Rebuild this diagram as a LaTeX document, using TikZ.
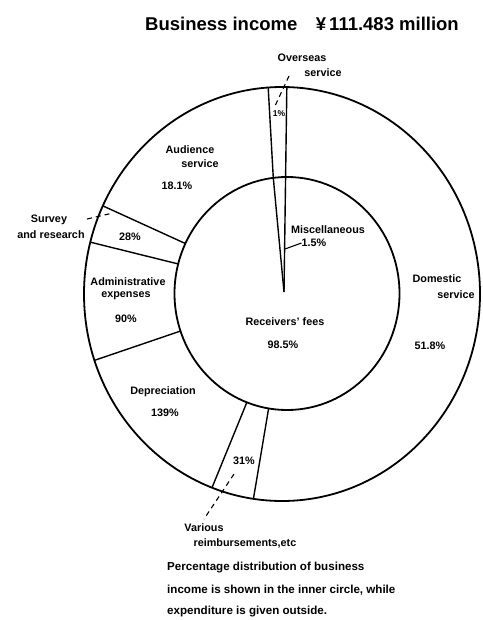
\documentclass[tikz,border=0pt]{standalone}
\usepackage{fontspec}
\setmainfont{Liberation Sans}
\usetikzlibrary{calc}
\begin{document}
\begin{tikzpicture}[x=1pt,y=1pt,
  ring/.style={line width=1.8pt},
  sep/.style={line width=1.4pt},
  lbl/.style={font=\bfseries\fontsize{10.8}{12}\selectfont, inner sep=0pt},
  small/.style={font=\bfseries\fontsize{8.5}{9}\selectfont, inner sep=0pt},
  capline/.style={font=\bfseries\fontsize{11.6}{13}\selectfont, inner sep=0pt, anchor=west},
  lead/.style={line width=1.1pt, dash pattern=on 5pt off 4pt}]
\useasboundingbox (0,0) rectangle (482,-620);
% centres
\coordinate (Co) at (282,-294);
\coordinate (Ci) at (287,-293.5);
\coordinate (ap) at (284,-292);
% rings
\draw[ring] (Co) ellipse [x radius=198pt, y radius=207pt];
\draw[ring] (Ci) ellipse [x radius=112.5pt, y radius=116.5pt];
% separator end points
\coordinate (o1) at ($(Co)+(94:198pt and 207pt)$);
\coordinate (i1) at ($(Ci)+(97:112.5pt and 116.5pt)$);
\coordinate (o2) at ($(Co)+(88.6:198pt and 207pt)$);
\coordinate (o3) at ($(Co)+(-98.3:198pt and 207pt)$);
\coordinate (i3) at ($(Ci)+(-99.4:112.5pt and 116.5pt)$);
\coordinate (o4) at ($(Co)+(-110.7:198pt and 207pt)$);
\coordinate (i4) at ($(Ci)+(-110.9:112.5pt and 116.5pt)$);
\coordinate (o5) at ($(Co)+(198.7:198pt and 207pt)$);
\coordinate (i5) at ($(Ci)+(198.8:112.5pt and 116.5pt)$);
\coordinate (o6) at ($(Co)+(165.5:198pt and 207pt)$);
\coordinate (i6) at ($(Ci)+(165.3:112.5pt and 116.5pt)$);
\coordinate (o7) at ($(Co)+(154.8:198pt and 207pt)$);
\coordinate (i7) at ($(Ci)+(154.6:112.5pt and 116.5pt)$);
% separators
\draw[sep] (o1) -- (i1);
\draw[sep] (o2) -- (ap);
\draw[sep] (i1) -- (ap);
\draw[sep] (o3) -- (i3);
\draw[sep] (o4) -- (i4);
\draw[sep] (o5) -- (i5);
\draw[sep] (o6) -- (i6);
\draw[sep] (o7) -- (i7);
% title
\node[font=\bfseries\fontsize{18.5}{21}\selectfont, inner sep=0pt] (title) at (302,-24) {Business income\quad ¥\,111.483 million};
% overseas
\node[lbl] (ov1) at (302,-58) {Overseas};
\node[lbl] (ov2) at (323,-73) {service};
\coordinate (ovA) at (289,-76);
\coordinate (ovB) at (275,-106);
\draw[lead] (ovA) -- (ovB);
\node[small] (p1) at (279,-114) {1\%};
% audience
\node[lbl] (au1) at (190,-150) {Audience};
\node[lbl] (au2) at (200,-164) {service};
\node[lbl] (au3) at (177,-186) {18.1\%};
% survey
\node[lbl] (su1) at (49,-220) {Survey};
\node[lbl] (su2) at (51,-235) {and research};
\node[lbl] (su3) at (130,-237) {28\%};
\coordinate (suA) at (87,-219);
\coordinate (suB) at (113,-213);
\draw[lead] (suA) -- (suB);
% administrative
\node[lbl] (ad1) at (128,-282) {Administrative};
\node[lbl] (ad2) at (126,-296) {expenses};
\node[lbl] (ad3) at (126,-319) {90\%};
% depreciation
\node[lbl] (de1) at (163,-392) {Depreciation};
\node[lbl] (de2) at (165,-413) {139\%};
% various
\node[lbl] (va3) at (244,-461) {31\%};
\node[lbl] (va1) at (204,-528) {Various};
\node[lbl] (va2) at (245,-543) {reimbursements,etc};
\coordinate (vaA) at (234,-474);
\coordinate (vaB) at (204,-519);
\draw[lead] (vaA) -- (vaB);
% receivers' fees
\node[lbl] (rf1) at (285,-322) {Receivers' fees};
\node[lbl] (rf2) at (283,-345) {98.5\%};
% domestic
\node[lbl] (do1) at (437,-279) {Domestic};
\node[lbl] (do2) at (456,-295) {service};
\node[lbl] (do3) at (430,-346) {51.8\%};
% miscellaneous
\node[lbl] (mi1) at (328,-230) {Miscellaneous};
\node[lbl] (mi2) at (314,-243) {1.5\%};
\coordinate (miB) at (285,-249);
\draw[line width=1.1pt] (mi2.west) -- (miB);
% caption
\node[capline] (c1) at (167,-568) {Percentage distribution of business};
\node[capline] (c2) at (167,-590) {income is shown in the inner circle, while};
\node[capline] (c3) at (167,-612) {expenditure is given outside.};
\end{tikzpicture}
\end{document}
